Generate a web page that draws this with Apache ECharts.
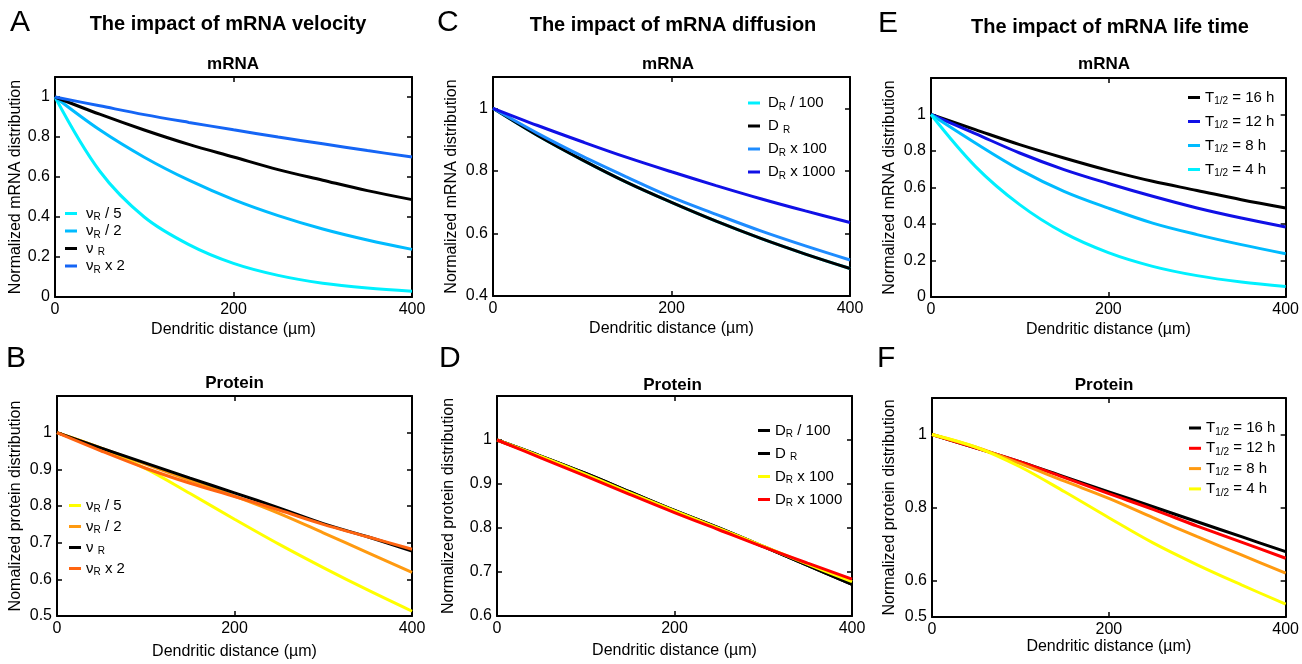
<!DOCTYPE html>
<html><head><meta charset="utf-8">
<script src="https://cdn.jsdelivr.net/npm/echarts@6/dist/echarts.min.js"></script>
<style>html,body{margin:0;padding:0;background:#fff}#c{width:1302px;height:664px}</style>
</head><body><div id="c"></div>
<script>
// ---------- data ----------
const distance = [0, 50, 100, 150, 200, 250, 300, 350, 400];
const xTicks = [0, 200, 400];

// A: mRNA, impact of velocity
const labelsA = ['νR / 5', 'νR / 2', 'ν R', 'νR x 2'];
const mrnaVel_v5  = [1, 0.63, 0.40, 0.262, 0.168, 0.108, 0.069, 0.045, 0.029];
const mrnaVel_v2  = [1, 0.836, 0.699, 0.584, 0.487, 0.407, 0.340, 0.285, 0.238];
const mrnaVel_v   = [1, 0.914, 0.835, 0.763, 0.700, 0.637, 0.584, 0.532, 0.487];
const mrnaVel_vx2 = [1, 0.956, 0.912, 0.873, 0.836, 0.800, 0.766, 0.732, 0.700];
const yTicksA = [0, 0.2, 0.4, 0.6, 0.8, 1];

// B: protein, impact of velocity
const labelsB = ['νR / 5', 'νR / 2', 'ν R', 'νR x 2'];
const protVel_v5  = [1, 0.957, 0.902, 0.834, 0.764, 0.696, 0.632, 0.571, 0.513];
const protVel_v2  = [1, 0.958, 0.914, 0.870, 0.827, 0.780, 0.727, 0.673, 0.619];
const protVel_v   = [1, 0.958, 0.917, 0.876, 0.836, 0.795, 0.752, 0.716, 0.677];
const protVel_vx2 = [1, 0.950, 0.903, 0.862, 0.826, 0.789, 0.750, 0.716, 0.682];
const yTicksB = [0.5, 0.6, 0.7, 0.8, 0.9, 1];

// C: mRNA, impact of diffusion
const labelsC = ['DR / 100', 'D R', 'DR x 100', 'DR x 1000'];
const mrnaDif_d100   = [1, 0.913, 0.835, 0.763, 0.699, 0.639, 0.584, 0.534, 0.488];
const mrnaDif_d      = [1, 0.913, 0.835, 0.763, 0.699, 0.639, 0.584, 0.534, 0.488];
const mrnaDif_dx100  = [1, 0.920, 0.847, 0.780, 0.716, 0.661, 0.608, 0.560, 0.515];
const mrnaDif_dx1000 = [1, 0.945, 0.893, 0.843, 0.797, 0.753, 0.711, 0.672, 0.635];
const yTicksC = [0.4, 0.6, 0.8, 1];

// D: protein, impact of diffusion
const labelsD = ['DR / 100', 'D R', 'DR x 100', 'DR x 1000'];
const protDif_d100   = [1, 0.963, 0.924, 0.882, 0.840, 0.800, 0.758, 0.715, 0.672];
const protDif_d      = [1, 0.963, 0.924, 0.882, 0.840, 0.800, 0.758, 0.715, 0.672];
const protDif_dx100  = [1, 0.962, 0.922, 0.880, 0.839, 0.799, 0.759, 0.718, 0.678];
const protDif_dx1000 = [1, 0.959, 0.918, 0.876, 0.835, 0.796, 0.757, 0.720, 0.684];
const yTicksD = [0.6, 0.7, 0.8, 0.9, 1];

// E: mRNA, impact of life time
const labelsE = ['T1/2 = 16 h', 'T1/2 = 12 h', 'T1/2 = 8 h', 'T1/2 = 4 h'];
const mrnaLife_16 = [1, 0.917, 0.835, 0.762, 0.694, 0.634, 0.584, 0.533, 0.488];
const mrnaLife_12 = [1, 0.895, 0.789, 0.698, 0.622, 0.552, 0.488, 0.433, 0.384];
const mrnaLife_8  = [1, 0.844, 0.698, 0.579, 0.487, 0.405, 0.342, 0.287, 0.237];
const mrnaLife_4  = [1, 0.716, 0.506, 0.351, 0.243, 0.168, 0.117, 0.082, 0.058];
const yTicksE = [0, 0.2, 0.4, 0.6, 0.8, 1];

// F: protein, impact of life time
const labelsF = ['T1/2 = 16 h', 'T1/2 = 12 h', 'T1/2 = 8 h', 'T1/2 = 4 h'];
const protLife_16 = [1, 0.963, 0.925, 0.884, 0.843, 0.802, 0.761, 0.720, 0.679];
const protLife_12 = [1, 0.963, 0.925, 0.882, 0.838, 0.795, 0.749, 0.705, 0.661];
const protLife_8  = [1, 0.965, 0.920, 0.872, 0.825, 0.772, 0.720, 0.670, 0.620];
const protLife_4  = [1, 0.965, 0.911, 0.843, 0.772, 0.703, 0.643, 0.588, 0.535];
const yTicksF = [0.5, 0.6, 0.8, 1];

// ---------- layout / styles ----------
const FONT = "'Liberation Sans', Arial, Helvetica, sans-serif";
const panels = [
  {key:'A', grid:{left:55, top:77, width:357, height:220}, yMin:0, yMax:1.1, interval:0.2, ticks:yTicksA,
   yName:'Normalized mRNA distribution', yGap:30, xGap:25, labels:labelsA,
   values:[mrnaVel_v5, mrnaVel_v2, mrnaVel_v, mrnaVel_vx2],
   colors:['#00F0FF', '#00BBFF', '#000000', '#1565F5'],
   legend:{left:65, top:206, gap:1, pad:4}},
  {key:'B', grid:{left:57, top:396, width:355, height:220}, yMin:0.5, yMax:1.1, interval:0.1, ticks:yTicksB,
   yName:'Nomalized protein distribution', yGap:33, xGap:28, labels:labelsB,
   values:[protVel_v5, protVel_v2, protVel_v, protVel_vx2],
   colors:['#FFFF00', '#FF9A10', '#000000', '#FF6410'],
   legend:{left:69, top:498, gap:4.5, pad:0}},
  {key:'C', grid:{left:493, top:77, width:357, height:219}, yMin:0.4, yMax:1.1, interval:0.2, ticks:yTicksC,
   yName:'Normalized mRNA distribution', yGap:33, xGap:25, labels:labelsC,
   values:[mrnaDif_d100, mrnaDif_d, mrnaDif_dx100, mrnaDif_dx1000],
   colors:['#00F0FF', '#000000', '#1E8CFF', '#1010E6'],
   legend:{left:748, top:95.5, gap:6.5, pad:3}},
  {key:'D', grid:{left:497, top:396, width:355, height:220}, yMin:0.6, yMax:1.1, interval:0.1, ticks:yTicksD,
   yName:'Normalized protein distribution', yGap:40, xGap:27, labels:labelsD,
   values:[protDif_d100, protDif_d, protDif_dx100, protDif_dx1000],
   colors:['#000000', '#000000', '#FFFF00', '#FF0000'],
   legend:{left:758, top:423, gap:6.5, pad:0}},
  {key:'E', grid:{left:931, top:78, width:356, height:219}, yMin:0, yMax:1.2, interval:0.2, ticks:yTicksE,
   yName:'Normalized mRNA distribution', yGap:33, xGap:25, labels:labelsE,
   values:[mrnaLife_16, mrnaLife_12, mrnaLife_8, mrnaLife_4],
   colors:['#000000', '#1010E6', '#00BBFF', '#00F0FF'],
   legend:{left:1188, top:90, gap:7.5, pad:0}},
  {key:'F', grid:{left:932, top:398, width:355, height:219}, yMin:0.5, yMax:1.1, interval:0.1, ticks:yTicksF,
   yName:'Normalized protein distribution', yGap:34, xGap:20, labels:labelsF,
   values:[protLife_16, protLife_12, protLife_8, protLife_4],
   colors:['#000000', '#FF0000', '#FF9A10', '#FFFF00'],
   legend:{left:1189, top:420.5, gap:3.8, pad:0}}
];

function makeRichName(pad) {
  return function (name) {
    const s = name.slice(name.indexOf('|') + 1);
    const lead = pad ? '{g| }' : '';
    let m = s.match(/^(ν|D)( ?)R(.*)$/);
    if (m) return lead + '{m|' + m[1] + m[2] + '}{s|R}' + (m[3] ? '{m|' + m[3] + '}' : '');
    m = s.match(/^T1\/2(.*)$/);
    if (m) return lead + '{m|T}{s|1/2}{m|' + m[1] + '}';
    return lead + '{m|' + s + '}';
  };
}
function makeRich(pad) {
  return {
    g: {width: pad || 1, fontSize: 10, fontFamily: FONT, lineHeight: 18, verticalAlign: 'middle'},
    m: {fontSize: 15, fontFamily: FONT, color: '#000', lineHeight: 18, verticalAlign: 'middle'},
    s: {fontSize: 10, fontFamily: FONT, color: '#000', lineHeight: 8, verticalAlign: 'bottom'}
  };
}

const axisLine = {show: true, onZero: false, lineStyle: {color: '#000', width: 2}};
const tickStyle = {color: '#000', width: 1.5};
const fmtTick = ticks => v => ticks.some(t => Math.abs(t - v) < 1e-6) ? String(+v.toFixed(2)) : '';

const grid = [], xAxis = [], yAxis = [], series = [], legend = [];
panels.forEach((p, i) => {
  grid.push(Object.assign({containLabel: false}, p.grid));
  xAxis.push({type:'value', gridIndex:i, min:0, max:400, interval:200, position:'bottom',
    axisLine, axisTick:{show:true, inside:true, length:5, lineStyle:tickStyle, customValues:xTicks},
    axisLabel:{color:'#000', fontSize:16, fontFamily:FONT, margin:5, customValues:xTicks},
    splitLine:{show:false},
    name:'Dendritic distance (µm)', nameLocation:'middle', nameGap:p.xGap,
    nameTextStyle:{color:'#000', fontSize:16, fontFamily:FONT}});
  xAxis.push({type:'value', gridIndex:i, min:0, max:400, interval:200, position:'top',
    axisLine, axisTick:{show:true, inside:true, length:5, lineStyle:tickStyle, customValues:xTicks},
    axisLabel:{show:false}, splitLine:{show:false}});
  yAxis.push({type:'value', gridIndex:i, min:p.yMin, max:p.yMax, interval:p.interval, position:'left',
    axisLine, axisTick:{show:true, inside:true, length:5, lineStyle:tickStyle, customValues:p.ticks},
    axisLabel:{color:'#000', fontSize:16, fontFamily:FONT, margin:5, customValues:p.ticks, formatter:fmtTick(p.ticks)},
    splitLine:{show:false},
    name:p.yName, nameLocation:'middle', nameGap:p.yGap,
    nameTextStyle:{color:'#000', fontSize:16, fontFamily:FONT}});
  yAxis.push({type:'value', gridIndex:i, min:p.yMin, max:p.yMax, interval:p.interval, position:'right',
    axisLine, axisTick:{show:true, inside:true, length:5, lineStyle:tickStyle, customValues:p.ticks},
    axisLabel:{show:false}, splitLine:{show:false}});
  const names = [];
  p.values.forEach((vals, k) => {
    const name = p.key + '|' + p.labels[k];
    names.push(name);
    series.push({type:'line', name, xAxisIndex:2*i, yAxisIndex:2*i,
      data: distance.map((x, j) => [x, vals[j]]),
      showSymbol:false, symbol:'none', smooth:0.35, color:p.colors[k],
      lineStyle:{width:3, color:p.colors[k]}, emphasis:{disabled:true}, silent:true});
  });
  legend.push({data:names, left:p.legend.left, top:p.legend.top, orient:'vertical', icon:'rect',
    itemWidth:12, itemHeight:3, itemGap:p.legend.gap, padding:0, selectedMode:false,
    formatter:makeRichName(p.legend.pad), textStyle:{rich:makeRich(p.legend.pad), fontSize:15, fontFamily:FONT, color:'#000'}});
});

function txt(text, x, y, size, weight, align) {
  return {type:'text', x, y, silent:true, style:{text, x:0, y:0,
    font: (weight || 'normal') + ' ' + size + 'px ' + FONT, fill:'#000',
    align: align || 'center', verticalAlign:'middle',
    textAlign: align || 'center', textVerticalAlign:'middle'}};
}
const graphic = [
  txt('A', 10, 23, 30, 'normal', 'left'),
  txt('C', 437, 23, 30, 'normal', 'left'),
  txt('E', 878, 24, 30, 'normal', 'left'),
  txt('B', 6, 359, 30, 'normal', 'left'),
  txt('D', 439, 359, 30, 'normal', 'left'),
  txt('F', 877, 359, 30, 'normal', 'left'),
  txt('The impact of mRNA velocity', 228, 24.5, 20, 'bold'),
  txt('The impact of mRNA diffusion', 673, 25, 20, 'bold'),
  txt('The impact of mRNA life time', 1110, 27, 20, 'bold'),
  txt('mRNA', 233, 64, 17, 'bold'),
  txt('mRNA', 668, 64.5, 17, 'bold'),
  txt('mRNA', 1104, 64.5, 17, 'bold'),
  txt('Protein', 234.5, 383.5, 17, 'bold'),
  txt('Protein', 672.5, 385, 17, 'bold'),
  txt('Protein', 1104, 385, 17, 'bold')
];

const chart = echarts.init(document.getElementById('c'), null, {renderer:'canvas'});
chart.setOption({animation:false, backgroundColor:'#fff', grid, xAxis, yAxis, series, legend, graphic,
  textStyle:{fontFamily:FONT}});
</script></body></html>
